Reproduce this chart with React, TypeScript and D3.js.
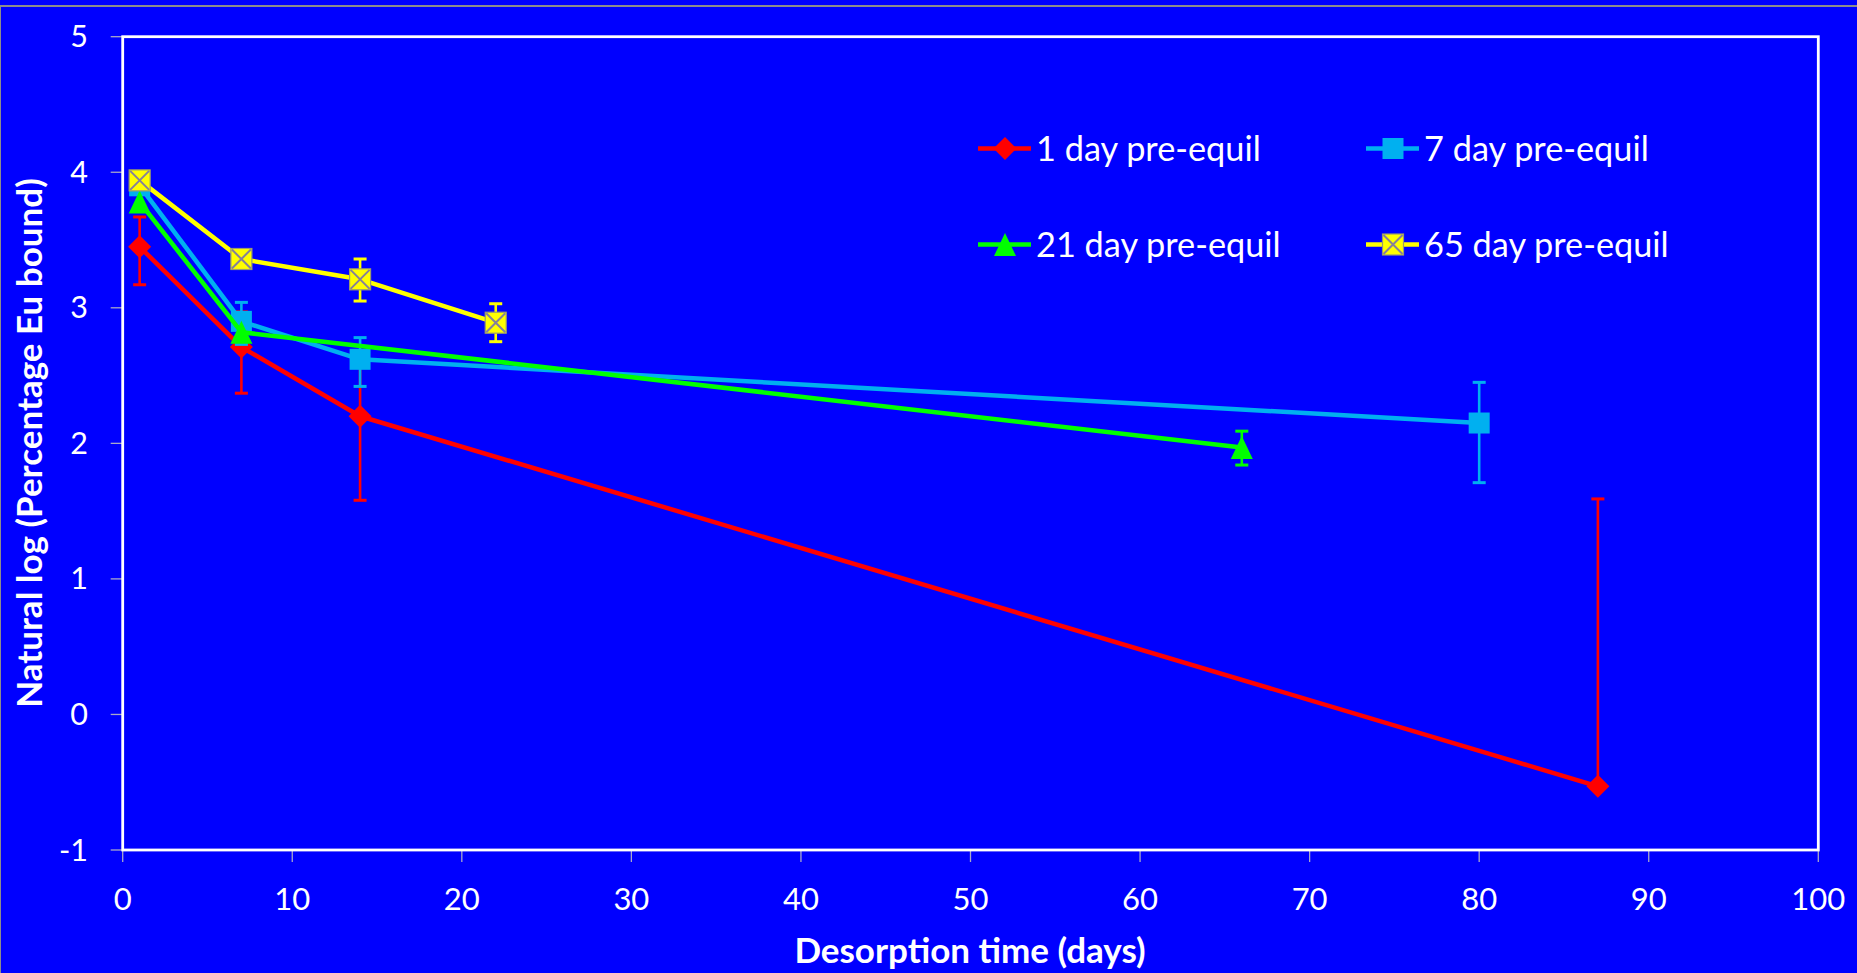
import React from 'react';
import * as d3 from 'd3';

const W = 1857;
const H = 973;

const xTicks = [0, 10, 20, 30, 40, 50, 60, 70, 80, 90, 100];
const yTicks = [-1, 0, 1, 2, 3, 4, 5];

const seriesNames = ['1 day pre-equil', '7 day pre-equil', '21 day pre-equil', '65 day pre-equil'];
const seriesColors = ['#FF0000', '#00B0F0', '#00FF00', '#FFFF00'];
const seriesMarkers = ['diamond', 'square', 'triangle', 'xsquare'];

const days1 = [1, 7, 14, 87];
const vals1 = [3.45, 2.71, 2.2, -0.53];
const up1 = [0.22, 0.26, 0.38, 2.12];
const down1 = [0.28, 0.34, 0.62, 0];

const days7 = [1, 7, 14, 80];
const vals7 = [3.9, 2.9, 2.62, 2.15];
const up7 = [0, 0.14, 0.16, 0.3];
const down7 = [0, 0.17, 0.2, 0.44];

const days21 = [1, 7, 66];
const vals21 = [3.78, 2.82, 1.97];
const up21 = [0, 0, 0.12];
const down21 = [0, 0, 0.13];

const days65 = [1, 7, 14, 22];
const vals65 = [3.94, 3.36, 3.21, 2.89];
const up65 = [0, 0, 0.15, 0.14];
const down65 = [0, 0, 0.16, 0.14];

const xTitle = 'Desorption time (days)';
const yTitle = 'Natural log (Percentage Eu bound)';

const allDays = [days1, days7, days21, days65];
const allVals = [vals1, vals7, vals21, vals65];
const allUp = [up1, up7, up21, up65];
const allDown = [down1, down7, down21, down65];

const PL = 122.7, PR = 1818.3, PT = 36.7, PB = 850;
const FONT = 'Lato, Carlito, Calibri, sans-serif';

function Marker({ kind, color, x, y }: { kind: string; color: string; x: number; y: number }) {
  const s = 10.5;
  if (kind === 'diamond') {
    const d = 11.5;
    return <path d={`M${x},${y - d}L${x + d},${y}L${x},${y + d}L${x - d},${y}Z`} fill={color} />;
  }
  if (kind === 'square') {
    return <rect x={x - s} y={y - s} width={2 * s} height={2 * s} fill={color} />;
  }
  if (kind === 'triangle') {
    return <path d={`M${x},${y - 11.5}L${x + 11},${y + 11.5}L${x - 11},${y + 11.5}Z`} fill={color} />;
  }
  return (
    <g>
      <rect x={x - s} y={y - s} width={2 * s} height={2 * s} fill={color} stroke="#9a9a6e" strokeWidth={1.2} />
      <path d={`M${x - s + 1},${y - s + 1}L${x + s - 1},${y + s - 1}M${x + s - 1},${y - s + 1}L${x - s + 1},${y + s - 1}`} stroke="#85809a" strokeWidth={2} />
    </g>
  );
}

export default function App() {
  const x = d3.scaleLinear().domain([0, 100]).range([PL, PR]);
  const y = d3.scaleLinear().domain([-1, 5]).range([PB, PT]);
  const line = d3.line<[number, number]>().x((d) => x(d[0])).y((d) => y(d[1]));

  const legendCols = [978, 1366];
  const legendRows = [148.5, 244.5];

  return (
    <svg width={W} height={H} style={{ position: 'absolute', left: 0, top: 0, display: 'block' }} fontFamily={FONT}>
      <rect x={0} y={0} width={W} height={H} fill="#0000FF" />
      <line x1={0} x2={W} y1={6} y2={6} stroke="#8c8c8c" strokeWidth={2} />
      <line x1={0.5} x2={0.5} y1={6} y2={H} stroke="#8c8c8c" strokeWidth={1} />

      {/* ticks */}
      {yTicks.map((t) => (
        <g key={'y' + t}>
          <line x1={PL - 12} x2={PL} y1={y(t)} y2={y(t)} stroke="#a8a8c8" strokeWidth={1.3} />
          <text x={88} y={y(t) + 10.5} fill="#fff" fontSize={30.5} textAnchor="end">{t}</text>
        </g>
      ))}
      {xTicks.map((t) => (
        <g key={'x' + t}>
          <line x1={x(t)} x2={x(t)} y1={PB} y2={PB + 12} stroke="#a8a8c8" strokeWidth={1.3} />
          <text x={x(t)} y={910} fill="#fff" fontSize={31} textAnchor="middle">{t}</text>
        </g>
      ))}

      {/* frame */}
      <rect x={PL} y={PT} width={PR - PL} height={PB - PT} fill="none" stroke="#fff" strokeWidth={2.8} />

      {/* series */}
      {allDays.map((ds, si) => {
        const color = seriesColors[si];
        const pts = ds.map((d, i) => [d, allVals[si][i]] as [number, number]);
        return (
          <g key={'s' + si}>
            <path d={line(pts) || ''} fill="none" stroke={color} strokeWidth={4.5} strokeLinejoin="round" />
            {pts.map((p, i) => {
              const u = allUp[si][i];
              const dn = allDown[si][i];
              const cx = x(p[0]);
              return (
                <g key={'e' + i}>
                  {u > 0 && (
                    <g>
                      <line x1={cx} x2={cx} y1={y(p[1])} y2={y(p[1] + u)} stroke={color} strokeWidth={2.6} />
                      <line x1={cx - 6.5} x2={cx + 6.5} y1={y(p[1] + u)} y2={y(p[1] + u)} stroke={color} strokeWidth={3} />
                    </g>
                  )}
                  {dn > 0 && (
                    <g>
                      <line x1={cx} x2={cx} y1={y(p[1])} y2={y(p[1] - dn)} stroke={color} strokeWidth={2.6} />
                      <line x1={cx - 6.5} x2={cx + 6.5} y1={y(p[1] - dn)} y2={y(p[1] - dn)} stroke={color} strokeWidth={3} />
                    </g>
                  )}
                </g>
              );
            })}
            {pts.map((p, i) => (
              <Marker key={'m' + i} kind={seriesMarkers[si]} color={color} x={x(p[0])} y={y(p[1])} />
            ))}
          </g>
        );
      })}

      {/* legend */}
      {seriesNames.map((name, i) => {
        const lx = legendCols[i % 2];
        const ly = legendRows[Math.floor(i / 2)];
        return (
          <g key={'l' + i}>
            <line x1={lx} x2={lx + 53} y1={ly} y2={ly} stroke={seriesColors[i]} strokeWidth={4.5} />
            <Marker kind={seriesMarkers[i]} color={seriesColors[i]} x={lx + 27} y={ly} />
            <text x={lx + 58} y={ly + 12} fill="#fff" fontSize={34.3}>{name}</text>
          </g>
        );
      })}

      {/* axis titles */}
      <text x={970} y={963} fill="#fff" fontSize={35} fontWeight="bold" textAnchor="middle">{xTitle}</text>
      <text transform="translate(42,443) rotate(-90)" fill="#fff" fontSize={35} fontWeight="bold" textAnchor="middle">{yTitle}</text>
    </svg>
  );
}
